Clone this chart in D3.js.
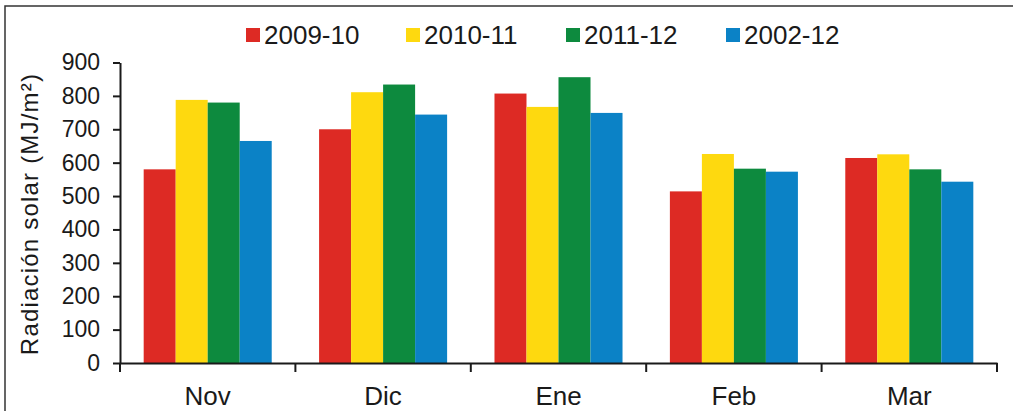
<!DOCTYPE html>
<html>
<head>
<meta charset="utf-8">
<script src="https://cdn.jsdelivr.net/npm/d3@7"></script>
<style>
  body { margin: 0; background: #fff; }
  text { font-family: "Liberation Sans", Arial, sans-serif; fill: #1a1a1a; }
</style>
</head>
<body>
<div class="bar-chart-container"></div>
<script>
// Data
const months = ['Nov', 'Dic', 'Ene', 'Feb', 'Mar'];
const series_names = ['2009-10', '2010-11', '2011-12', '2002-12'];
const series_colors = ['#dd2a24', '#fed90f', '#0d8a3e', '#0b82c6'];
const values_2009_10 = [580, 700, 807, 514, 614];
const values_2010_11 = [788, 811, 767, 626, 625];
const values_2011_12 = [780, 834, 856, 582, 580];
const values_2002_12 = [665, 744, 749, 573, 543];
const y_ticks = [0, 100, 200, 300, 400, 500, 600, 700, 800, 900];

const all_values = [values_2009_10, values_2010_11, values_2011_12, values_2002_12];

// 每個月份一組
const bar_data = months.map((m, i) => ({
    month: m,
    bars: series_names.map((s, j) => ({ name: s, color: series_colors[j], value: all_values[j][i] }))
}));

const svg_width = 1013;
const svg_height = 411;

const svg = d3.select('.bar-chart-container')
    .append('svg')
    .attr('width', svg_width)
    .attr('height', svg_height);

// frame
svg.append('rect')
    .attr('x', 5).attr('y', 6)
    .attr('width', 1030).attr('height', 430)
    .style('fill', 'none')
    .style('stroke', '#333')
    .style('stroke-width', 1.5);

// scales
const x0 = d3.scaleBand().domain(months).range([120, 997]).padding(0);
const x1 = d3.scaleBand().domain(series_names).range([0, x0.bandwidth()]).paddingInner(0).paddingOuter(0.74);
const y = d3.scaleLinear().domain([0, 900]).range([363, 62.5]);

// bars
const groups = svg.append('g').attr('class', 'bars')
    .selectAll('g')
    .data(bar_data)
    .enter()
    .append('g')
    .attr('transform', d => `translate(${x0(d.month)},0)`);

groups.selectAll('rect')
    .data(d => d.bars)
    .enter()
    .append('rect')
    .attr('x', d => x1(d.name))
    .attr('y', d => y(d.value))
    .attr('width', x1.bandwidth())
    .attr('height', d => y(0) - y(d.value))
    .style('fill', d => d.color);

// y axis
const y_axis = d3.axisLeft(y).tickValues(y_ticks).tickSize(7).tickPadding(13).tickSizeOuter(0);
const y_g = svg.append('g')
    .attr('class', 'y axis')
    .attr('transform', 'translate(120,0)')
    .call(y_axis);
y_g.selectAll('text').style('font-size', '23px');
y_g.selectAll('line, path').style('stroke', '#1a1a1a').style('stroke-width', 2);

// x axis: 線 + 類別邊界刻度
const x_axis = d3.axisBottom(x0).tickSize(0).tickPadding(24).tickSizeOuter(0);
const x_g = svg.append('g')
    .attr('class', 'x axis')
    .attr('transform', 'translate(0,363)')
    .call(x_axis);
x_g.select('.domain').style('stroke', '#1a1a1a').style('stroke-width', 2);
x_g.selectAll('text').style('font-size', '26px');

const boundaries = months.map(m => x0(m)).concat([x0(months[months.length - 1]) + x0.bandwidth()]);
x_g.selectAll('.bound')
    .data(boundaries)
    .enter()
    .append('line')
    .attr('class', 'bound')
    .attr('x1', d => d).attr('x2', d => d)
    .attr('y1', 0).attr('y2', 9)
    .style('stroke', '#1a1a1a')
    .style('stroke-width', 2);

// y axis title
svg.append('text')
    .attr('transform', 'translate(38,214) rotate(-90)')
    .attr('text-anchor', 'middle')
    .style('font-size', '24px')
    .style('letter-spacing', '1.2px')
    .text('Radiación solar  (MJ/m²)');

// legend
const legend = svg.append('g')
    .attr('class', 'legend')
    .selectAll('g')
    .data(series_names)
    .enter()
    .append('g')
    .attr('transform', (d, i) => `translate(${246 + i * 160},28)`);

legend.append('rect')
    .attr('width', 14).attr('height', 14)
    .style('fill', (d, i) => series_colors[i]);

legend.append('text')
    .attr('x', 18)
    .attr('y', 16)
    .style('font-size', '26px')
    .text(d => d);
</script>
</body>
</html>
